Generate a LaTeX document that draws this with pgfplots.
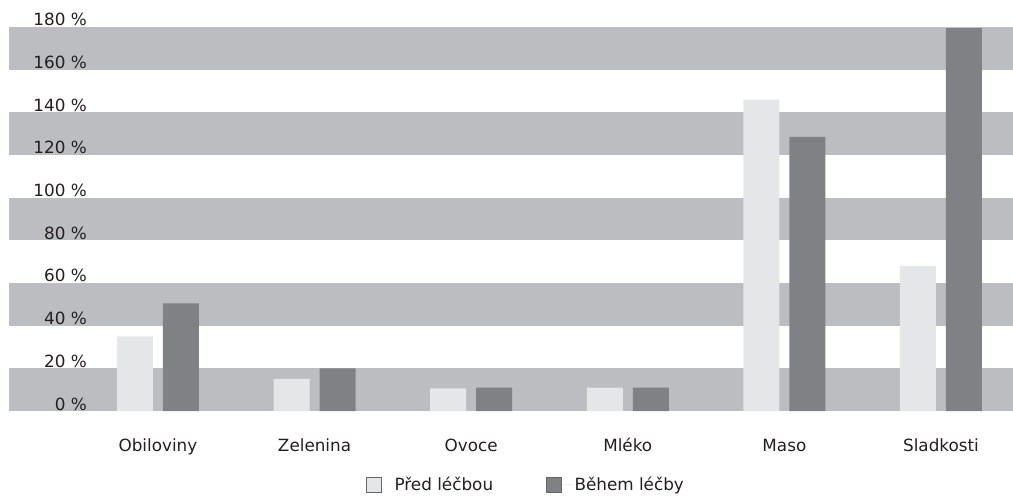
\documentclass[border=0pt]{standalone}
\usepackage{pgfplots}
\pgfplotsset{compat=1.18}
\usepackage{fontspec}
\setmainfont{DejaVu Sans}
\definecolor{band}{HTML}{BCBDC1}
\definecolor{lightbar}{HTML}{E5E6E8}
\definecolor{darkbar}{HTML}{808185}
\definecolor{txt}{HTML}{231F20}
\begin{document}
\begin{tikzpicture}
\useasboundingbox (0,0) rectangle (1013bp,496bp);
\begin{axis}[
  at={(9bp,85bp)}, anchor=south west,
  scale only axis, width=1004bp, height=384bp,
  xmin=-0.951, xmax=5.46, ymin=0, ymax=180,
  axis on top,
  axis line style={draw=none}, tick style={draw=none},
  font=\fontsize{16.8bp}{20bp}\selectfont,
  every tick label/.append style={text=txt},
  ytick={0,20,...,180},
  yticklabels={0 \%,20 \%,40 \%,60 \%,80 \%,100 \%,120 \%,140 \%,160 \%,180 \%},
  yticklabel style={anchor=base east, inner sep=0pt, xshift=78bp, yshift=1bp},
  xtick={0,...,5},
  xticklabels={Obiloviny,Zelenina,Ovoce,Mléko,Maso,Sladkosti},
  xticklabel style={anchor=base, inner sep=0pt, yshift=-36bp},
  ybar, bar width=36bp,
  legend style={at={(0.515,-0.192)}, anchor=center, draw=none, legend columns=2,
    font=\fontsize{16.8bp}{20bp}\selectfont, text=txt,
    /tikz/every even column/.append style={column sep=51bp}},
  legend image code/.code={\draw[#1, draw=black!60, line width=0.8bp] (0bp,-7.5bp) rectangle (15bp,7.5bp); \path (0bp,0bp) -- (26bp,0bp);},
  clip=false,
]
\pgfplotsinvokeforeach{0,40,80,120,160}{
  \fill[band] (axis cs:-0.951,#1) rectangle (axis cs:5.46,#1+20);
}
\addplot[fill=lightbar, draw=none, bar shift=-23bp] coordinates {(0,35) (1,15) (2,10.6) (3,11) (4,146) (5,68)};
\addlegendentry{Před léčbou}
\addplot[fill=darkbar, draw=none, bar shift=23bp] coordinates {(0,50.5) (1,20) (2,11) (3,11) (4,128.5) (5,179.5)};
\addlegendentry{Během léčby}
\end{axis}
\end{tikzpicture}
\end{document}
